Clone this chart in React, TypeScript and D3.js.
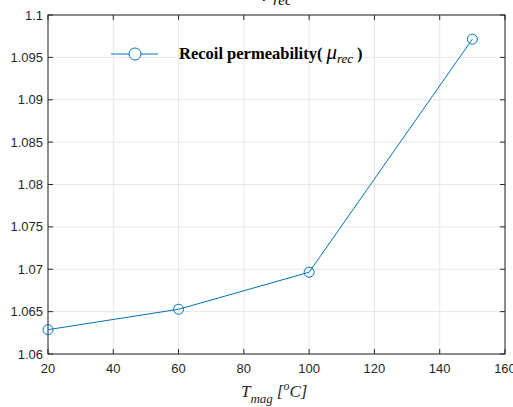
import React from "react";
import * as d3 from "d3";

const temperatures = [20, 60, 100, 150];
const permeability = [1.06287, 1.06528, 1.06965, 1.09715];
const xTicks = [20, 40, 60, 80, 100, 120, 140, 160];
const yTicks = [1.06, 1.065, 1.07, 1.075, 1.08, 1.085, 1.09, 1.095, 1.1];

const W = 513;
const H = 407;
const M = { left: 48, right: 8, top: 15, bottom: 53 };
const BLUE = "#0072BD";

export default function App() {
  const x = d3.scaleLinear().domain([20, 160]).range([M.left, W - M.right]);
  const y = d3.scaleLinear().domain([1.06, 1.1]).range([H - M.bottom, M.top]);
  const pts: [number, number][] = temperatures.map((t, i) => [t, permeability[i]]);
  const line = d3
    .line<[number, number]>()
    .x((d) => x(d[0]))
    .y((d) => y(d[1]));
  const x0 = M.left;
  const x1 = W - M.right;
  const y0 = H - M.bottom;
  const y1 = M.top;
  const tick = 5;
  const serif = "'Liberation Serif', 'Times New Roman', serif";
  const sans = "'Liberation Sans', Arial, sans-serif";

  return (
    <svg
      width={W}
      height={H}
      style={{ position: "absolute", left: 0, top: 0, background: "#fff" }}
    >
      {/* grid */}
      {xTicks.map((t) => (
        <line key={"gx" + t} x1={x(t)} x2={x(t)} y1={y1} y2={y0} stroke="#e6e6e6" strokeWidth={1} />
      ))}
      {yTicks.map((t) => (
        <line key={"gy" + t} x1={x0} x2={x1} y1={y(t)} y2={y(t)} stroke="#e6e6e6" strokeWidth={1} />
      ))}

      {/* ticks on all four sides, pointing inward */}
      {xTicks.map((t) => (
        <g key={"tx" + t} stroke="#262626" strokeWidth={1}>
          <line x1={x(t)} x2={x(t)} y1={y0} y2={y0 - tick} />
          <line x1={x(t)} x2={x(t)} y1={y1} y2={y1 + tick} />
        </g>
      ))}
      {yTicks.map((t) => (
        <g key={"ty" + t} stroke="#262626" strokeWidth={1}>
          <line x1={x0} x2={x0 + tick} y1={y(t)} y2={y(t)} />
          <line x1={x1} x2={x1 - tick} y1={y(t)} y2={y(t)} />
        </g>
      ))}

      {/* axes box */}
      <rect x={x0} y={y1} width={x1 - x0} height={y0 - y1} fill="none" stroke="#262626" strokeWidth={1} />

      {/* tick labels */}
      {xTicks.map((t) => (
        <text key={"lx" + t} x={x(t)} y={y0 + 19} textAnchor="middle" fontFamily={sans} fontSize={13} fill="#262626">
          {t}
        </text>
      ))}
      {yTicks.map((t) => (
        <text key={"ly" + t} x={x0 - 5} y={y(t) + 4.5} textAnchor="end" fontFamily={sans} fontSize={13} fill="#262626">
          {d3.format("")(+t.toFixed(3))}
        </text>
      ))}

      {/* series */}
      <path d={line(pts) || ""} fill="none" stroke={BLUE} strokeWidth={1} />
      {pts.map((p, i) => (
        <circle key={"p" + i} cx={x(p[0])} cy={y(p[1])} r={5} fill="none" stroke={BLUE} strokeWidth={1} />
      ))}

      {/* legend */}
      <line x1={111} x2={158} y1={54} y2={54} stroke={BLUE} strokeWidth={1} />
      <circle cx={135} cy={54} r={6} fill="#fff" stroke={BLUE} strokeWidth={1} />
      <text x={179} y={59} fontFamily={serif} fontSize={16.5} fontWeight="bold" fill="#000">
        Recoil permeability(
        <tspan fontStyle="italic" fontWeight="normal" fontSize={21} dx={4}>μ</tspan>
        <tspan fontStyle="italic" fontWeight="normal" fontSize={13} dy={4}>rec</tspan>
        <tspan dy={-4} dx={4}>)</tspan>
      </text>

      {/* title, clipped at the top edge */}
      <text x={263} y={-4} fontFamily={serif} fontSize={20} fontStyle="italic" fill="#000">
        μ
        <tspan fontSize={15} dy={9}>rec</tspan>
      </text>

      {/* x label */}
      <text x={241} y={397} fontFamily={serif} fontSize={17} fontStyle="italic" fill="#262626">
        T
        <tspan fontSize={13} dy={6}>mag</tspan>
        <tspan dy={-6} dx={4}>[</tspan>
        <tspan fontSize={12} dy={-7}>o</tspan>
        <tspan dy={7}>C]</tspan>
      </text>
    </svg>
  );
}
